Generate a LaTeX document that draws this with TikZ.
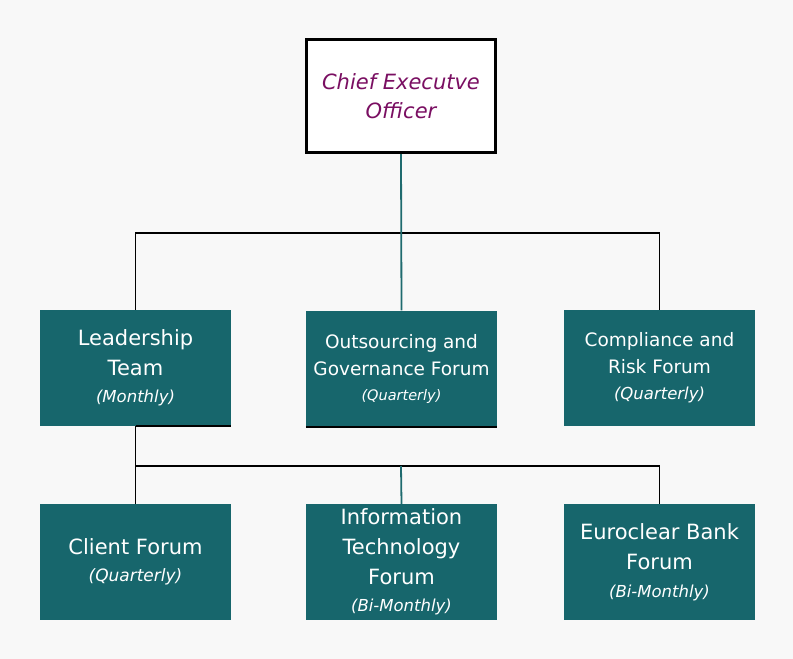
\documentclass[tikz,border=0pt]{standalone}
\usepackage{fontspec}
\setmainfont{DejaVu Sans}
\usetikzlibrary{positioning}
\definecolor{boxteal}{HTML}{17666C}
\definecolor{lineteal}{HTML}{1F6B6F}
\definecolor{ceopurple}{HTML}{7A0F62}
\definecolor{bggray}{HTML}{F8F8F8}

\begin{document}
\begin{tikzpicture}[x=1pt,y=-1pt,
		forum/.style={fill=boxteal,text=white,align=center,inner sep=0pt,
			minimum width=191pt,minimum height=116pt},
		bigtext/.style={font=\fontsize{21}{30}\selectfont},
		midtext/.style={font=\fontsize{18.5}{27}\selectfont},
		bline/.style={line width=1.8pt,black},
		tline/.style={line width=1.8pt,lineteal}]
		\fill[bggray] (0,0) rectangle (793,659);
		\useasboundingbox (0,0) rectangle (793,659);
		% top
		\node[draw=black,line width=3pt,fill=white,text=ceopurple,align=center,
			minimum width=189pt,minimum height=113pt,inner sep=0pt,
			font=\fontsize{21}{29}\selectfont\itshape] (ceo) at (401,96) {Chief Executve\\Officer};
		% second row
		\node[forum,bigtext] (lead) at (135.5,368) {Leadership\\Team\\[-3pt]{\fontsize{16.5}{20}\selectfont\itshape (Monthly)}};
		\node[forum,midtext] (outs) at (401.5,368.5) {Outsourcing and\\Governance Forum\\[-2pt]{\fontsize{14.5}{18}\selectfont\itshape (Quarterly)}};
		\node[forum,midtext] (comp) at (659.5,368) {Compliance and\\Risk Forum\\[-1pt]{\fontsize{16.5}{20}\selectfont\itshape (Quarterly)}};
		% third row
		\node[forum,bigtext] (client) at (135.5,562) {Client Forum\\[-3pt]{\fontsize{17}{20}\selectfont\itshape (Quarterly)}};
		\node[forum,bigtext] (it) at (401.5,562) {Information\\Technology\\Forum\\[-3pt]{\fontsize{16.5}{20}\selectfont\itshape (Bi-Monthly)}};
		\node[forum,bigtext] (euro) at (659.5,562) {Euroclear Bank\\Forum\\[-2pt]{\fontsize{16.5}{20}\selectfont\itshape (Bi-Monthly)}};
		% connectors
		\coordinate (busone) at (401,233);
		\coordinate (bustwo) at (401,466);
		\draw[bline] (lead.north) |- (busone) -| (comp.north);
		\draw[tline] (ceo.south) -- (outs.north);
		\draw[bline] (lead.south) -- (client.north);
		\draw[bline] (lead.south) |- (bustwo) -| (euro.north);
		\draw[tline] (bustwo) -- (it.north);
		\draw[bline] (lead.south) -- (lead.south east);
		\draw[bline] (outs.south west) -- (outs.south east);
\end{tikzpicture}
\end{document}
